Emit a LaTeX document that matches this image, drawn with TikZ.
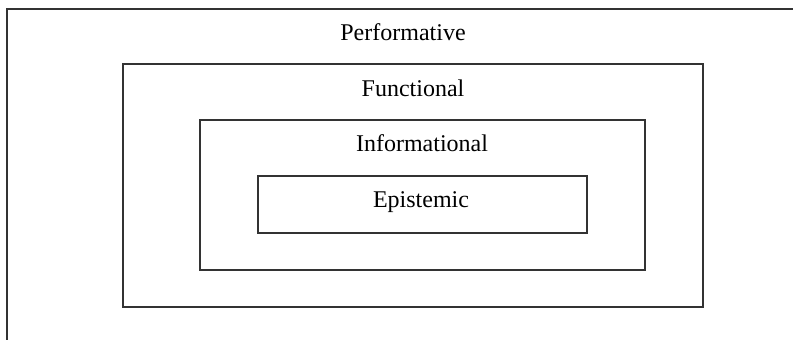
\documentclass[tikz,border=0pt]{standalone}
\usepackage{fontspec}
\setmainfont{Liberation Serif}
\begin{document}
\begin{tikzpicture}[x=1pt,y=-1pt,
  frame/.style={draw=black!80,line width=1.6pt},
  lbl/.style={anchor=base,inner sep=0pt,font=\fontsize{24}{28}\selectfont}]
\useasboundingbox (0,0) rectangle (793,340);
\coordinate (otl) at (7,9);
\coordinate (otr) at (793,9);
\coordinate (obl) at (7,340);
\draw[frame] (otr) -- (otl) -- (obl);
\node[lbl] (perf) at (403,40) {Performative};
\node[frame,draw,inner sep=0pt,minimum width=580pt,minimum height=243pt] (func) at (413,185.5) {};
\node[lbl] (funct) at (413,96) {Functional};
\node[frame,draw,inner sep=0pt,minimum width=445pt,minimum height=150pt] (info) at (422.5,195) {};
\node[lbl] (infot) at (422,151) {Informational};
\node[frame,draw,inner sep=0pt,minimum width=329pt,minimum height=57pt] (epi) at (422.5,204.5) {};
\node[lbl] (epit) at (421,207) {Epistemic};
\end{tikzpicture}
\end{document}
